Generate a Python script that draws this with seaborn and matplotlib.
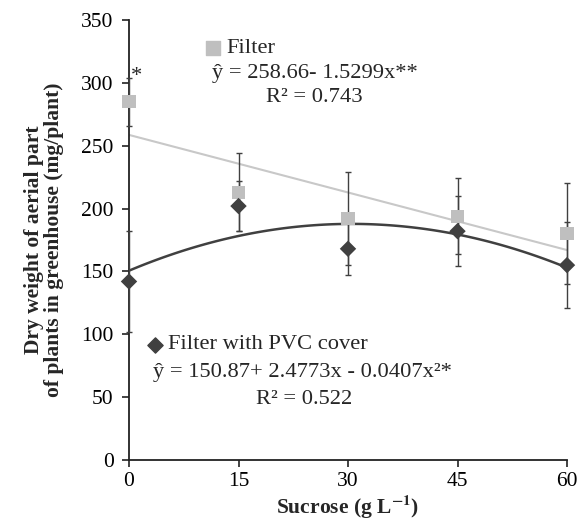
import numpy as np
import pandas as pd
import matplotlib
matplotlib.use("Agg")
import matplotlib.pyplot as plt
import seaborn as sns

# ---- data ----
sucrose = [0, 15, 30, 45, 60]
filter_mean = [285, 213, 192, 194, 180]
filter_err = [19, 31, 37, 30, 40]
pvc_mean = [142, 202, 168, 182, 155]
pvc_err = [40, 20, 21, 28, 34]
x_ticks = [0, 15, 30, 45, 60]
y_ticks = [0, 50, 100, 150, 200, 250, 300, 350]

df = pd.DataFrame({"x": sucrose, "filter": filter_mean, "pvc": pvc_mean})

sns.set_style("ticks")
plt.rcParams["font.family"] = ["Liberation Serif", "DejaVu Serif"]
plt.rcParams["mathtext.fontset"] = "stix"

fig = plt.figure(figsize=(5.79, 5.20), dpi=100)
ax = fig.add_axes([129 / 579, 1 - 460 / 520, 438 / 579, 440 / 520])

light = "#BFBFBF"
dark = "#404040"

# trend lines
sns.regplot(data=df, x="x", y="filter", order=1, ci=None, scatter=False,
            ax=ax, line_kws=dict(color="#C8C8C8", lw=1.5, zorder=2))
sns.regplot(data=df, x="x", y="pvc", order=2, ci=None, scatter=False,
            ax=ax, line_kws=dict(color=dark, lw=1.8, zorder=2))

# error bars
ax.errorbar(sucrose, filter_mean, yerr=filter_err, fmt="none", ecolor=dark,
            elinewidth=1.0, capsize=2.5, capthick=1.0, zorder=3, clip_on=False)
ax.errorbar(sucrose, pvc_mean, yerr=pvc_err, fmt="none", ecolor=dark,
            elinewidth=1.0, capsize=2.5, capthick=1.0, zorder=3, clip_on=False)

# markers
sns.scatterplot(data=df, x="x", y="filter", marker="s", s=90, color=light,
                edgecolor="none", ax=ax, zorder=4, clip_on=False)
sns.scatterplot(data=df, x="x", y="pvc", marker="D", s=70, color=dark,
                edgecolor="none", ax=ax, zorder=5, clip_on=False)
for c in ax.collections:
    c.set_clip_on(False)

ax.set_xlim(0, 60)
ax.set_ylim(0, 350)
ax.set_xticks(x_ticks)
ax.set_yticks(y_ticks)
ax.tick_params(axis="both", labelsize=15.5, direction="out", length=5, width=1.2,
               colors="#222222", labelcolor="black")
ax.tick_params(axis="y", pad=6)
ax.tick_params(axis="x", pad=4)
for sp in ["top", "right"]:
    ax.spines[sp].set_visible(False)
for sp in ["left", "bottom"]:
    ax.spines[sp].set_linewidth(1.3)
    ax.spines[sp].set_color("#222222")

ax.set_xlabel("Sucrose (g L$^{\\mathbf{-1}}$)", fontsize=15.5, fontweight="bold")
ax.xaxis.set_label_coords(0.5, -0.075)
ax.set_ylabel("Dry weight of aerial part\nof plants in greenhouse (mg/plant)",
              fontsize=15.5, fontweight="bold", linespacing=1.0)
ax.yaxis.set_label_coords(-0.148, 0.5)

# annotations
fs = 16.2
ax.scatter([11.5], [327.5], marker="s", s=95, color=light, clip_on=False, zorder=5)
ax.text(13.4, 327.5, "Filter", fontsize=fs, va="center", ha="left")
ax.text(25.5, 307.5, "ŷ = 258.66- 1.5299x**", fontsize=fs, va="center", ha="center")
ax.text(25.4, 288, "R² = 0.743", fontsize=fs, va="center", ha="center")
ax.text(1.05, 305, "*", fontsize=fs, va="center", ha="center")

ax.scatter([3.56], [91.5], marker="D", s=60, color=dark, clip_on=False, zorder=5)
ax.text(5.3, 91.5, "Filter with PVC cover", fontsize=fs, va="center", ha="left")
ax.text(23.7, 69.5, "ŷ = 150.87+ 2.4773x - 0.0407x²*", fontsize=fs, va="center", ha="center")
ax.text(24.0, 48.5, "R² = 0.522", fontsize=fs, va="center", ha="center")

fig.savefig("out.png", dpi=100)
